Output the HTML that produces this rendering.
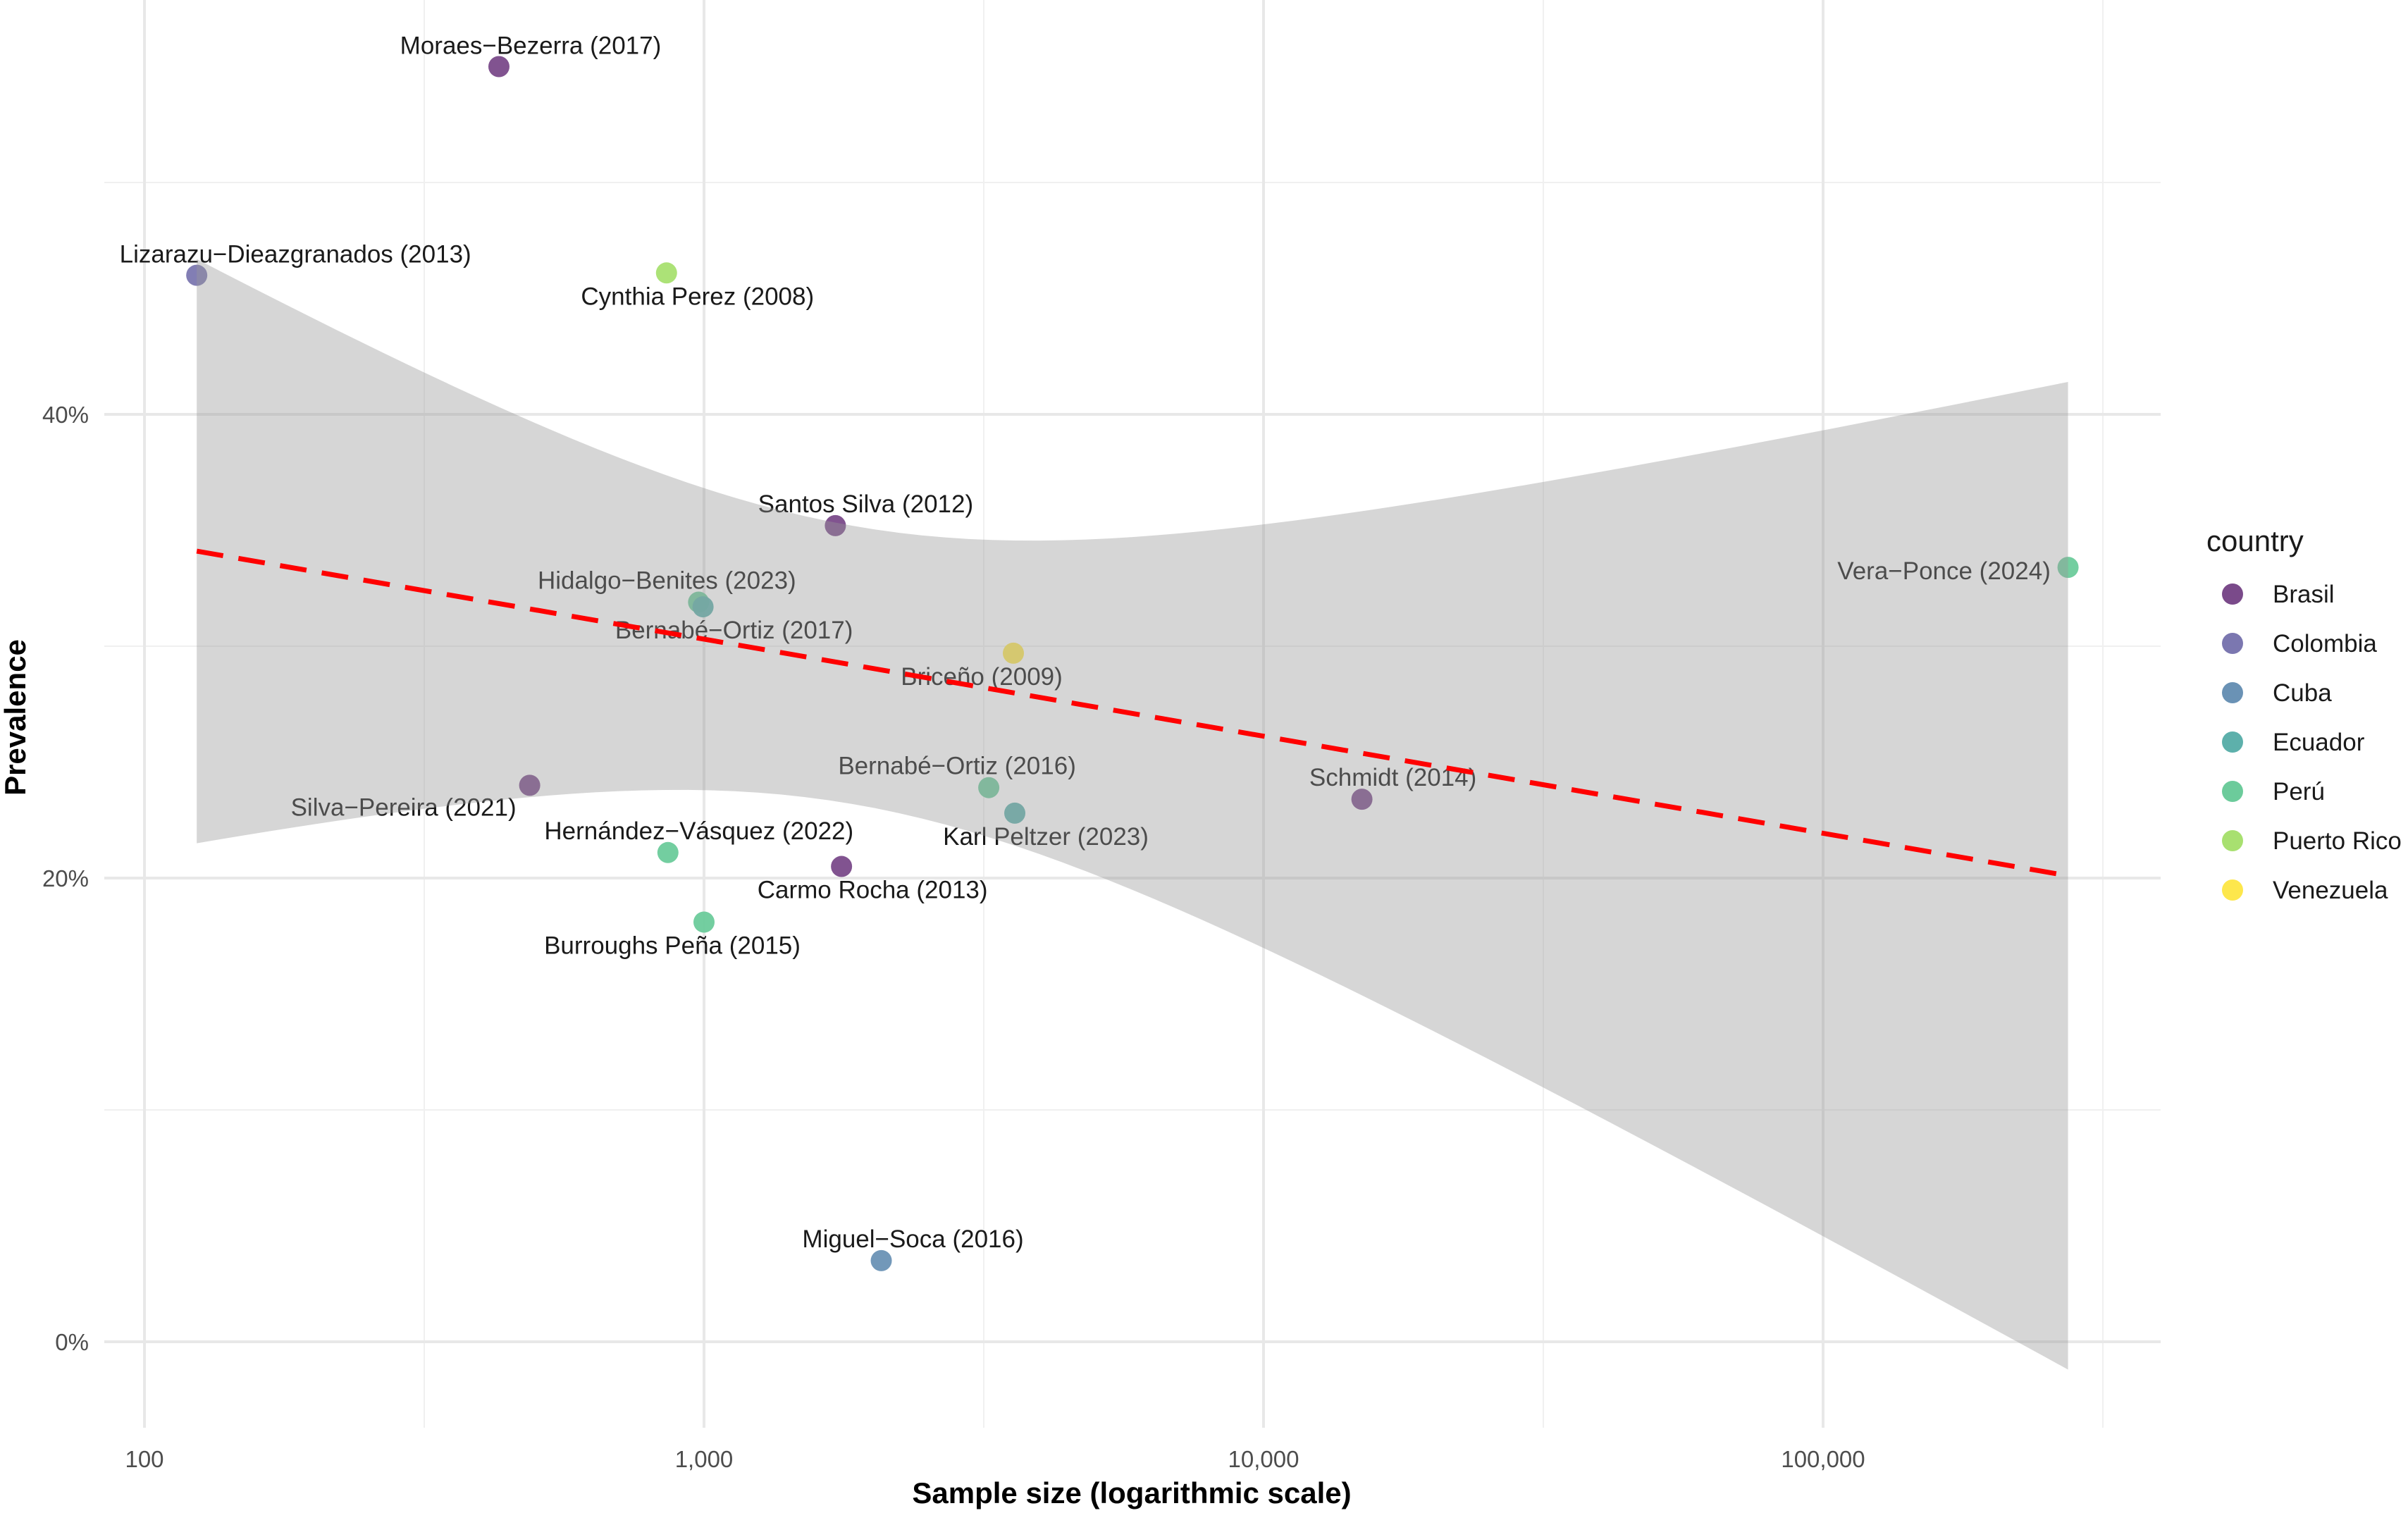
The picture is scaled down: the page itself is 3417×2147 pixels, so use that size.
<!DOCTYPE html>
<html><head><meta charset="utf-8"><style>
html,body{margin:0;padding:0;background:#fff;}
svg{display:block;font-family:"Liberation Sans",Arial,sans-serif;}
</style></head><body>
<svg id="chart" width="3417" height="2147" viewBox="0 0 3417 2147">
<g id="grid"></g>
<g id="points"></g>
<g id="labels"></g>
<g id="ribbon"></g>
<g id="trend"></g>
<g id="axes"></g>
<g id="legend"></g>
</svg>
<script>
const studies = ["Moraes−Bezerra (2017)","Lizarazu−Dieazgranados (2013)","Cynthia Perez (2008)","Santos Silva (2012)","Hidalgo−Benites (2023)","Bernabé−Ortiz (2017)","Briceño (2009)","Silva−Pereira (2021)","Bernabé−Ortiz (2016)","Karl Peltzer (2023)","Schmidt (2014)","Hernández−Vásquez (2022)","Carmo Rocha (2013)","Burroughs Peña (2015)","Miguel−Soca (2016)","Vera−Ponce (2024)"];
const sampleSizes = [430,124,857,1717,978,996,3572,488,3228,3593,14990,862,1761,1000,2074,274000];
const prevalence = [55.0,46.0,46.1,35.2,31.9,31.7,29.7,24.0,23.9,22.8,23.4,21.1,20.5,18.1,3.5,33.4];
const countries = ["Brasil","Colombia","Puerto Rico","Brasil","Perú","Ecuador","Venezuela","Brasil","Perú","Ecuador","Brasil","Perú","Brasil","Perú","Cuba","Perú"];
const legendCountries = ["Brasil","Colombia","Cuba","Ecuador","Perú","Puerto Rico","Venezuela"];
const legendColors = ["#7a4a8a","#7b77b0","#6a92b5","#5db0ab","#6ccb9b","#a8e070","#fde74c"];
const xTicks = [100,1000,10000,100000];
const xTickLabels = ["100","1,000","10,000","100,000"];
const yTicks = [0,20,40];
const yTickLabels = ["0%","20%","40%"];
// trend fit: value at n=124 and n=274000
const trendEnds = [124,274000];
const trendVals = [34.1,20.1];
// CI half-width params: [min half-width, curvature, log10 centre]
const ciParams = [6.0,88.8,3.269];
// label offsets (layout)
const lblOff = [[45,-30],[140,-30],[44,33],[43,-31],[-45,-31],[44,33],[-45,33],[-179,31],[-45,-31],[44,33],[44,-31],[44,-31],[44,33],[-45,33],[45,-31],[-176,5]];

const NS="http://www.w3.org/2000/svg";
function mk(tag,attrs,parent){const e=document.createElementNS(NS,tag);for(const k in attrs)e.setAttribute(k,attrs[k]);parent.appendChild(e);return e;}
const X0=205, DEC=794, Y0=1904, PER=32.9;
const L=148,R=3066,T=0,B=2026;
function xs(n){return X0+DEC*Math.log10(n/100);}
function ys(p){return Y0-PER*p;}
const colorOf = c => legendColors[legendCountries.indexOf(c)];

const grid=document.getElementById('grid');
// minor grid
[10,30,50].forEach(v=>{const l=mk('line',{x1:L,x2:R,y1:ys(v),y2:ys(v),stroke:'#f0f0f0','stroke-width':2},grid);

});
[Math.sqrt(10)*100,Math.sqrt(10)*1000,Math.sqrt(10)*10000,Math.sqrt(10)*100000].forEach(v=>{const l=mk('line',{x1:xs(v),x2:xs(v),y1:T,y2:B,stroke:'#f0f0f0','stroke-width':2},grid);

});
yTicks.forEach(v=>{const l=mk('line',{x1:L,x2:R,y1:ys(v),y2:ys(v),stroke:'#e8e8e8','stroke-width':4},grid);

});
xTicks.forEach(v=>{const l=mk('line',{x1:xs(v),x2:xs(v),y1:T,y2:B,stroke:'#e8e8e8','stroke-width':4},grid);

});

const pts=document.getElementById('points'), lbls=document.getElementById('labels');
studies.forEach((s,i)=>{
  const cx=xs(sampleSizes[i]), cy=ys(prevalence[i]);
  const c=mk('circle',{cx:cx,cy:cy,r:15,fill:colorOf(countries[i]),'fill-opacity':0.95},pts);
  
  
  const t=mk('text',{x:cx+lblOff[i][0],y:cy+lblOff[i][1]+12,'text-anchor':'middle','font-size':35,fill:'#1a1a1a'},lbls);
  t.textContent=s;
  
  
});

// ribbon
const u1=Math.log10(trendEnds[0]), u2=Math.log10(trendEnds[1]);
const slope=(trendVals[1]-trendVals[0])/(u2-u1);
function fit(u){return trendVals[0]+slope*(u-u1);}
function hw(u){return Math.sqrt(ciParams[0]*ciParams[0]+ciParams[1]*(u-ciParams[2])**2);}
let up=[],lo=[];
for(let k=0;k<=80;k++){const u=u1+(u2-u1)*k/80;const px=X0+DEC*(u-2);up.push(px+','+ys(fit(u)+hw(u)));lo.unshift(px+','+ys(fit(u)-hw(u)));}
const rb=mk('polygon',{points:up.concat(lo).join(' '),fill:'#999999','fill-opacity':0.4},document.getElementById('ribbon'));


const tl=mk('line',{x1:xs(trendEnds[0]),y1:ys(trendVals[0]),x2:xs(trendEnds[1]),y2:ys(trendVals[1]),stroke:'#ff0000','stroke-width':7,'stroke-dasharray':'38 22'},document.getElementById('trend'));



const ax=document.getElementById('axes');
xTicks.forEach((v,i)=>{const t=mk('text',{x:xs(v),y:2082,'text-anchor':'middle','font-size':33,fill:'#4d4d4d'},ax);t.textContent=xTickLabels[i];

});
yTicks.forEach((v,i)=>{const t=mk('text',{x:126,y:ys(v)+12,'text-anchor':'end','font-size':33,fill:'#4d4d4d'},ax);t.textContent=yTickLabels[i];

});
const xt=mk('text',{x:1606,y:2133,'text-anchor':'middle','font-size':42,'font-weight':'bold',fill:'#000'},ax);xt.textContent='Sample size (logarithmic scale)';


const yt=mk('text',{x:0,y:0,transform:'translate(36,1018) rotate(-90)','text-anchor':'middle','font-size':42,'font-weight':'bold',fill:'#000'},ax);yt.textContent='Prevalence';



const lg=document.getElementById('legend');
const lt=mk('text',{x:3131,y:782,'font-size':42,fill:'#1a1a1a'},lg);lt.textContent='country';


legendCountries.forEach((c,i)=>{const y=843+70*i;
const d=mk('circle',{cx:3168,cy:y,r:15,fill:legendColors[i]},lg);


const t=mk('text',{x:3225,y:y+12,'font-size':35,fill:'#1a1a1a'},lg);t.textContent=c;

});
</script>
</body></html>
